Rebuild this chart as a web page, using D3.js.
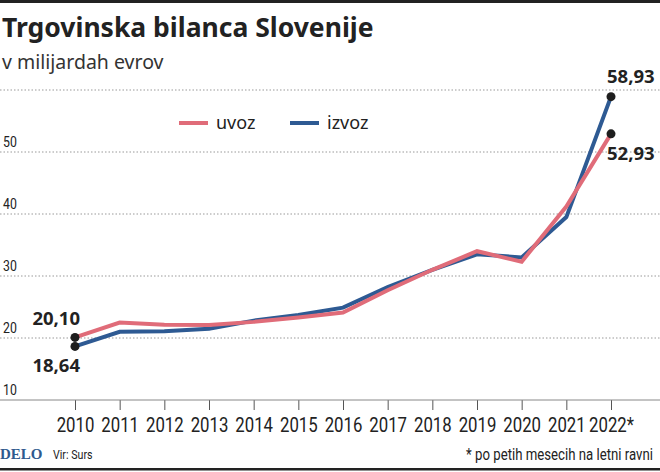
<!DOCTYPE html>
<html>
<head>
<meta charset="utf-8">
<script src="https://cdn.jsdelivr.net/npm/d3@7"></script>
<style>
  body { margin: 0; background: #fff; }
  svg text { fill: #222; }
  .cond { font-family: "Roboto", sans-serif; }
</style>
</head>
<body>
<div id="chart"></div>
<script>
// Width and height of the page
var width = 660;
var height = 472;

// data (milijarde evrov)
var years = ["2010", "2011", "2012", "2013", "2014", "2015", "2016", "2017", "2018", "2019", "2020", "2021", "2022*"];
var uvoz = [20.10, 22.5, 22.15, 22.1, 22.6, 23.3, 24.1, 27.7, 31.0, 34.0, 32.3, 41.2, 52.93];
var izvoz = [18.64, 21.0, 21.1, 21.5, 22.8, 23.7, 24.9, 28.2, 31.0, 33.5, 33.0, 39.5, 58.93];
var yTicks = [10, 20, 30, 40, 50];
var gridValues = [20, 30, 40, 50, 60];

var pink = "#e06c79";
var blue = "#2e5a93";
var squeeze = 0.82; // no condensed font installed, so squash Roboto a bit

var svg = d3.select("#chart")
  .append("svg")
  .attr("width", width)
  .attr("height", height);

// scales
var x = d3.scalePoint().domain(years).range([75, 611]);
var y = d3.scaleLinear().domain([10, 60]).range([400, 90]);

// top and bottom rules
svg.append("rect").attr("x", 0).attr("y", 0).attr("width", width).attr("height", 3).attr("fill", "#222");
svg.append("rect").attr("x", 0).attr("y", 468).attr("width", width).attr("height", 2.5).attr("fill", "#222");

// title
svg.append("text")
  .attr("x", 2).attr("y", 37)
  .style("font-family", "'Noto Sans', sans-serif")
  .style("font-weight", "bold")
  .style("font-size", "26.5px")
  .text("Trgovinska bilanca Slovenije");

svg.append("text")
  .attr("x", 2).attr("y", 69)
  .style("font-family", "'Noto Sans', sans-serif")
  .style("font-size", "19.5px")
  .style("fill", "#333")
  .text("v milijardah evrov");

// dotted grid lines
svg.append("g").selectAll("line")
  .data(gridValues)
  .enter().append("line")
  .attr("x1", 0).attr("x2", width)
  .attr("y1", function(d) { return y(d); })
  .attr("y2", function(d) { return y(d); })
  .style("stroke", "#999")
  .style("stroke-width", 1)
  .style("stroke-dasharray", "1.5,2");

// y labels sit above the grid lines
svg.append("g").selectAll("text")
  .data(yTicks)
  .enter().append("text")
  .attr("class", "cond")
  .attr("transform", function(d) { return "translate(3," + (y(d) - 5) + ") scale(" + squeeze + ",1)"; })
  .style("font-size", "15px")
  .text(function(d) { return d; });

// x axis
var xAxis = d3.axisBottom(x).tickSize(10).tickPadding(8);
var gx = svg.append("g")
  .attr("transform", "translate(0," + y(10) + ")")
  .call(xAxis);
gx.select(".domain").remove();
gx.selectAll(".tick line").style("stroke", "#555");
gx.selectAll(".tick text")
  .attr("class", "cond")
  .attr("transform", "scale(0.84,1)")
  .style("font-size", "20px")
  .style("fill", "#222");
gx.append("line")
  .attr("x1", 0).attr("x2", width)
  .style("stroke", "#888").style("stroke-width", 1);

// lines
var line = d3.line()
  .x(function(d, i) { return x(years[i]); })
  .y(function(d) { return y(d); });

svg.append("path").datum(izvoz)
  .attr("d", line)
  .style("fill", "none").style("stroke", blue).style("stroke-width", 4);

svg.append("path").datum(uvoz)
  .attr("d", line)
  .style("fill", "none").style("stroke", pink).style("stroke-width", 4);

// end dots and value labels
var last = years.length - 1;
var dots = [
  { year: years[0], value: uvoz[0], dy: -12, anchor: "end", dx: 5 },
  { year: years[0], value: izvoz[0], dy: 26, anchor: "end", dx: 5 },
  { year: years[last], value: izvoz[last], dy: -14, anchor: "start", dx: -4 },
  { year: years[last], value: uvoz[last], dy: 26, anchor: "start", dx: -4 }
];

svg.append("g").selectAll("circle")
  .data(dots)
  .enter().append("circle")
  .attr("cx", function(d) { return x(d.year); })
  .attr("cy", function(d) { return y(d.value); })
  .attr("r", 4.5)
  .style("fill", "#1e1e1e");

svg.append("g").selectAll("text")
  .data(dots)
  .enter().append("text")
  .attr("x", function(d) { return x(d.year) + d.dx; })
  .attr("y", function(d) { return y(d.value) + d.dy; })
  .attr("text-anchor", function(d) { return d.anchor; })
  .style("font-family", "'Noto Sans', sans-serif")
  .style("font-weight", "bold")
  .style("font-size", "18.5px")
  .text(function(d) { return d3.format(".2f")(d.value).replace(".", ","); });

// legend
var legendItems = [
  { name: "uvoz", color: pink, x: 179 },
  { name: "izvoz", color: blue, x: 290 }
];
var legend = svg.append("g").selectAll("g")
  .data(legendItems)
  .enter().append("g")
  .attr("transform", function(d) { return "translate(" + d.x + ",123)"; });
legend.append("line")
  .attr("x1", 0).attr("x2", 29)
  .style("stroke", function(d) { return d.color; })
  .style("stroke-width", 4);
legend.append("text")
  .attr("x", 37).attr("y", 6)
  .style("font-family", "'Noto Sans', sans-serif")
  .style("font-size", "18px")
  .text(function(d) { return d.name; });

// footer
svg.append("text")
  .attr("x", 0).attr("y", 459)
  .style("font-family", "'Liberation Serif', serif")
  .style("font-weight", "bold")
  .style("font-size", "15px")
  .style("fill", "#2f5a8e")
  .text("DELO");

svg.append("text")
  .attr("class", "cond")
  .attr("transform", "translate(53,459) scale(" + squeeze + ",1)")
  .style("font-size", "13px")
  .text("Vir: Surs");

svg.append("text")
  .attr("class", "cond")
  .attr("transform", "translate(653,460) scale(0.8,1)")
  .attr("text-anchor", "end")
  .style("font-size", "16.5px")
  .text("* po petih mesecih na letni ravni");
</script>
</body>
</html>
